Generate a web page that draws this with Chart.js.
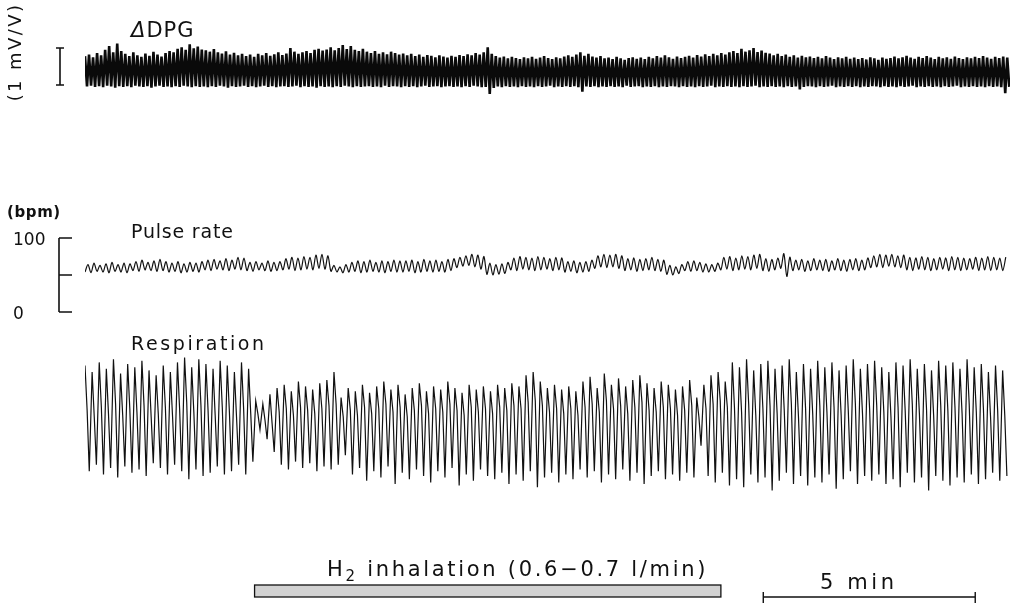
<!DOCTYPE html>
<html>
<head>
<meta charset="utf-8">
<script src="https://cdn.jsdelivr.net/npm/chart.js@4/dist/chart.umd.min.js"></script>
<style>
  html,body{margin:0;padding:0;background:#fff;}
  #wrap{position:relative;width:1013px;height:606px;overflow:hidden;background:#fff;}
  #c{position:absolute;left:0;top:0;}
  .t{position:absolute;font-family:"DejaVu Sans",sans-serif;color:#111;white-space:nowrap;line-height:1;}
</style>
</head>
<body>
<div id="wrap">
  <canvas id="c" width="1013" height="606"></canvas>
  <div class="t" style="left:131px;top:20px;font-size:21px;letter-spacing:1px;"><span style="font-style:italic">Δ</span>DPG</div>
  <div class="t" style="left:-37px;top:43px;width:104px;text-align:center;font-size:18px;letter-spacing:2.4px;transform:rotate(-90deg);">(1 mV/V)</div>
  <div class="t" style="left:7px;top:205px;font-size:15px;font-weight:bold;letter-spacing:0.6px;">(bpm)</div>
  <div class="t" style="left:13px;top:231px;font-size:17px;letter-spacing:0px;">100</div>
  <div class="t" style="left:13px;top:305px;font-size:17px;">0</div>
  <div class="t" style="left:131px;top:222px;font-size:19px;letter-spacing:0.8px;">Pulse rate</div>
  <div class="t" style="left:131px;top:334px;font-size:19px;letter-spacing:2.6px;">Respiration</div>
  <div class="t" style="left:327px;top:559px;font-size:21px;letter-spacing:2.7px;">H<span style="font-size:15px;position:relative;top:5px;">2</span> inhalation (0.6−0.7 l/min)</div>
  <div class="t" style="left:820px;top:572px;font-size:21px;letter-spacing:3.6px;">5 min</div>
</div>
<script>
// ---- time axis (minutes) ----
const timeMaxMin = 21.82;
const h2StartMin = 4, h2EndMin = 15;
const scaleBarStartMin = 16, scaleBarEndMin = 21;

// ---- ΔDPG (mV/V): successive oscillation highs and lows ----
const dpgStepMin = 0.095;
const dpgHigh = [
 0.78,0.82,0.75,0.86,0.80,0.95,1.05,0.88,1.12,0.92,
 0.84,0.78,0.88,0.80,0.76,0.85,0.79,0.90,0.82,0.77,
 0.86,0.92,0.88,0.98,1.02,0.95,1.10,0.99,1.04,0.96,
 0.94,0.90,0.97,0.88,0.85,0.91,0.82,0.87,0.80,0.84,
 0.78,0.82,0.76,0.84,0.80,0.86,0.79,0.83,0.88,0.81,
 0.85,1.00,0.90,0.84,0.88,0.92,0.86,0.95,0.98,0.93,
 0.96,1.02,0.94,1.00,1.08,0.97,1.05,0.95,0.92,0.98,
 0.90,0.86,0.92,0.84,0.88,0.83,0.90,0.86,0.82,0.85,
 0.80,0.84,0.78,0.82,0.76,0.81,0.79,0.75,0.80,0.77,
 0.74,0.79,0.76,0.81,0.78,0.83,0.80,0.86,0.82,0.88,
 1.02,0.84,0.78,0.74,0.77,0.72,0.76,0.73,0.70,0.75,
 0.72,0.76,0.71,0.74,0.78,0.73,0.70,0.75,0.72,0.77,
 0.80,0.76,0.82,0.88,0.79,0.84,0.77,0.74,0.78,0.72,
 0.74,0.70,0.76,0.72,0.68,0.73,0.75,0.71,0.74,0.70,
 0.76,0.72,0.78,0.74,0.80,0.75,0.71,0.77,0.73,0.76,
 0.79,0.74,0.81,0.77,0.83,0.78,0.84,0.80,0.86,0.82,
 0.88,0.92,0.86,0.98,0.90,0.94,1.00,0.89,0.93,0.87,
 0.85,0.80,0.84,0.78,0.82,0.76,0.80,0.74,0.79,0.75,
 0.77,0.73,0.76,0.72,0.78,0.74,0.70,0.75,0.72,0.76,
 0.71,0.74,0.70,0.73,0.69,0.75,0.72,0.68,0.74,0.71,
 0.73,0.77,0.72,0.75,0.79,0.74,0.71,0.76,0.73,0.78,
 0.74,0.70,0.76,0.72,0.75,0.71,0.77,0.73,0.70,0.75,
 0.72,0.76,0.73,0.78,0.74,0.71,0.76,0.73,0.77,0.74
];
const dpgLow = [
 -0.04,-0.02,-0.05,-0.03,-0.06,-0.02,-0.04,-0.07,-0.03,-0.05,
 -0.03,-0.06,-0.02,-0.04,-0.05,-0.03,-0.07,-0.04,-0.02,-0.05,
 -0.04,-0.06,-0.03,-0.05,-0.02,-0.04,-0.06,-0.03,-0.05,-0.04,
 -0.06,-0.03,-0.05,-0.02,-0.04,-0.07,-0.03,-0.05,-0.04,-0.02,
 -0.05,-0.03,-0.06,-0.04,-0.02,-0.05,-0.03,-0.06,-0.04,-0.03,
 -0.05,-0.04,-0.02,-0.06,-0.03,-0.05,-0.04,-0.07,-0.03,-0.05,
 -0.04,-0.06,-0.03,-0.05,-0.02,-0.04,-0.06,-0.03,-0.05,-0.04,
 -0.03,-0.05,-0.04,-0.06,-0.02,-0.05,-0.03,-0.04,-0.06,-0.03,
 -0.05,-0.03,-0.06,-0.04,-0.02,-0.05,-0.04,-0.03,-0.06,-0.04,
 -0.03,-0.05,-0.04,-0.06,-0.03,-0.05,-0.02,-0.04,-0.06,-0.05,
 -0.24,-0.08,-0.04,-0.06,-0.03,-0.05,-0.04,-0.06,-0.03,-0.05,
 -0.04,-0.06,-0.03,-0.05,-0.04,-0.02,-0.06,-0.04,-0.05,-0.03,
 -0.05,-0.03,-0.06,-0.18,-0.04,-0.05,-0.03,-0.06,-0.04,-0.05,
 -0.03,-0.05,-0.04,-0.06,-0.02,-0.05,-0.04,-0.03,-0.06,-0.04,
 -0.05,-0.03,-0.06,-0.04,-0.05,-0.03,-0.04,-0.06,-0.03,-0.05,
 -0.04,-0.06,-0.03,-0.05,-0.04,-0.02,-0.06,-0.04,-0.05,-0.03,
 -0.05,-0.04,-0.06,-0.03,-0.05,-0.04,-0.02,-0.06,-0.04,-0.05,
 -0.03,-0.05,-0.04,-0.06,-0.03,-0.05,-0.04,-0.12,-0.05,-0.03,
 -0.04,-0.06,-0.03,-0.05,-0.04,-0.02,-0.06,-0.04,-0.05,-0.03,
 -0.05,-0.03,-0.06,-0.04,-0.05,-0.03,-0.04,-0.06,-0.03,-0.05,
 -0.04,-0.06,-0.03,-0.05,-0.04,-0.02,-0.06,-0.04,-0.05,-0.03,
 -0.05,-0.04,-0.06,-0.03,-0.05,-0.04,-0.02,-0.06,-0.04,-0.05,
 -0.03,-0.05,-0.04,-0.06,-0.03,-0.05,-0.04,-0.06,-0.22,-0.05
];

// ---- Pulse rate (bpm): successive highs and lows of each beat-to-beat wiggle ----
const pulseTicks = [0, 50, 100];
const pulseStepMin = 0.1415;
const pulseHigh = [
 64,66,63,65,67,64,66,65,
 68,70,67,69,71,68,
 66,68,65,67,66,68,
 70,71,69,72,70,74,73,
 67,68,66,69,67,68,
 72,74,73,75,74,77,78,76,
 63,61,64,
 67,69,68,70,67,69,68,70,69,
 69,70,68,71,69,70,68,71,72,
 74,76,78,77,75,
 66,64,65,67,
 73,75,74,73,75,74,72,74,73,
 68,69,67,68,70,
 76,78,77,78,76,
 72,73,71,72,74,71,70,
 63,61,64,
 68,69,67,65,64,66,
 74,75,73,76,75,77,78,
 72,71,73,
 79,74,
 70,71,69,72,70,71,69,72,70,71,72,70,73,
 76,78,77,78,76,77,
 74,73,75,74,72,74,73,75,74,73,72,74,73,75,74,73,74
];
const pulseLow = [
 54,53,55,54,53,55,54,53,
 56,55,57,56,55,56,
 54,55,53,54,55,54,
 57,56,58,57,56,58,57,
 56,55,57,56,55,56,
 57,58,56,57,58,57,59,58,
 55,54,53,
 54,55,53,54,55,54,53,55,54,
 54,55,53,54,55,54,55,54,56,
 60,62,63,61,58,
 51,50,51,52,
 57,56,58,57,56,57,58,56,57,
 54,55,53,54,55,
 59,61,60,61,59,
 56,57,55,56,57,56,55,
 51,50,52,
 56,55,56,54,54,55,
 57,58,56,57,58,57,59,
 56,55,57,
 59,48,
 56,57,55,56,57,56,55,57,56,55,57,56,57,
 60,61,60,62,61,60,
 57,56,58,57,56,57,58,56,57,56,57,58,56,57,56,57,56
];

// ---- Respiration (arbitrary units): peak, shoulder, trough of each breath ----
const respStepMin = 0.1678;
const respPeak = [
 84,80,86,82,88,79,85,83,87,81,
 78,84,80,86,89,83,88,85,82,87,
 84,80,86,82,
 62,60,66,
 70,72,68,74,71,69,73,75,
 80,
 64,
 70,68,72,67,71,74,69,72,66,70,
 73,68,71,69,74,70,67,72,69,71,
 68,72,70,73,71,78,80,74,70,72,
 69,71,68,
 74,77,70,79,72,76,71,75,78,73,
 70,74,72,69,71,75,
 64,
 72,78,80,74,
 86,83,88,81,85,87,82,84,88,80,
 85,82,87,83,86,81,84,88,82,85,
 87,83,80,86,84,88,82,85,81,87,
 84,86,82,88,83,85,80,84,81
];
const respShoulder = [
 56,52,58,54,60,53,57,55,59,52,
 54,58,53,57,61,55,59,56,53,58,
 55,52,57,54,
 54,50,48,
 55,57,53,58,56,54,57,59,
 60,
 52,
 56,53,58,54,57,60,55,58,52,56,
 59,54,57,55,60,56,53,58,55,57,
 54,58,56,59,57,61,62,59,55,57,
 54,57,53,
 58,60,55,62,57,59,54,58,61,56,
 55,58,57,53,56,59,
 52,
 57,60,62,58,
 58,55,60,53,57,59,54,56,60,52,
 57,54,59,55,58,53,56,60,54,57,
 59,55,52,58,56,60,54,57,53,59,
 56,58,54,60,55,57,52,56,53
];
const respTrough = [
 18,22,16,20,14,21,17,19,15,23,
 20,16,22,18,13,19,15,17,21,16,
 18,22,16,24,
 44,38,30,
 22,19,24,20,23,18,21,19,
 22,
 28,
 16,20,12,18,14,21,10,17,13,19,
 15,11,18,14,20,9,16,12,19,15,
 13,17,10,16,12,18,8,14,17,11,
 16,13,19,
 14,18,11,16,13,19,12,17,10,15,
 18,13,16,12,17,14,
 34,
 15,11,17,9,
 13,8,16,11,14,6,12,17,10,15,
 9,14,11,16,7,13,18,10,15,12,
 16,10,13,8,17,11,14,6,15,12,
 9,14,11,16,10,13,17,12,15
];

// ---- build point lists for the library ----
const dpgPoints = [];
dpgHigh.forEach((v, i) => {
  dpgPoints.push({x: i * dpgStepMin, y: v});
  dpgPoints.push({x: (i + 0.5) * dpgStepMin, y: dpgLow[i]});
});
const pulsePoints = [];
pulseLow.forEach((v, i) => {
  pulsePoints.push({x: i * pulseStepMin, y: v});
  pulsePoints.push({x: (i + 0.5) * pulseStepMin, y: pulseHigh[i]});
});
const respPoints = [];
respPeak.forEach((v, i) => {
  respPoints.push({x: i * respStepMin, y: v});
  respPoints.push({x: (i + 0.3) * respStepMin, y: respShoulder[i]});
  respPoints.push({x: (i + 0.6) * respStepMin, y: respTrough[i]});
});

// ---- decorations drawn from the chart's own scales ----
const decor = {
  id: 'decor',
  afterDatasetsDraw(chart) {
    const ctx = chart.ctx;
    const xs = chart.scales.x, yD = chart.scales.yD, yP = chart.scales.yP;
    ctx.save();
    ctx.strokeStyle = '#111';
    ctx.lineWidth = 1.6;
    // 1 mV/V calibration bar
    const bx = 60, b0 = yD.getPixelForValue(0), b1 = yD.getPixelForValue(1);
    ctx.beginPath();
    ctx.moveTo(bx, b0); ctx.lineTo(bx, b1);
    ctx.moveTo(bx - 4, b0); ctx.lineTo(bx + 4, b0);
    ctx.moveTo(bx - 4, b1); ctx.lineTo(bx + 4, b1);
    ctx.stroke();
    // pulse rate axis
    const ax = 59;
    ctx.beginPath();
    ctx.moveTo(ax, yP.getPixelForValue(0)); ctx.lineTo(ax, yP.getPixelForValue(100));
    pulseTicks.forEach(t => {
      const py = yP.getPixelForValue(t);
      ctx.moveTo(ax, py); ctx.lineTo(ax + 13, py);
    });
    ctx.stroke();
    // H2 inhalation period bar
    const hx0 = xs.getPixelForValue(h2StartMin), hx1 = xs.getPixelForValue(h2EndMin);
    ctx.fillStyle = '#d2d2d2';
    ctx.fillRect(hx0, 585, hx1 - hx0, 12);
    ctx.lineWidth = 1.3;
    ctx.strokeRect(hx0, 585, hx1 - hx0, 12);
    // 5 min scale bar
    const sx0 = xs.getPixelForValue(scaleBarStartMin), sx1 = xs.getPixelForValue(scaleBarEndMin);
    ctx.lineWidth = 1.4;
    ctx.beginPath();
    ctx.moveTo(sx0, 597); ctx.lineTo(sx1, 597);
    ctx.moveTo(sx0, 592); ctx.lineTo(sx0, 603);
    ctx.moveTo(sx1, 592); ctx.lineTo(sx1, 603);
    ctx.stroke();
    ctx.restore();
  }
};

new Chart(document.getElementById('c'), {
  type: 'line',
  data: {
    datasets: [
      {label: 'ΔDPG', data: dpgPoints, yAxisID: 'yD', borderColor: '#0a0a0a', borderWidth: 2.6, pointRadius: 0, tension: 0, fill: false},
      {label: 'Pulse rate', data: pulsePoints, yAxisID: 'yP', borderColor: '#111', borderWidth: 1.2, pointRadius: 0, tension: 0.3, fill: false},
      {label: 'Respiration', data: respPoints, yAxisID: 'yR', borderColor: '#111', borderWidth: 1.2, pointRadius: 0, tension: 0, fill: false}
    ]
  },
  options: {
    responsive: false,
    animation: false,
    devicePixelRatio: 1,
    layout: {padding: {left: 85, right: 3, top: 0, bottom: 0}},
    plugins: {legend: {display: false}, tooltip: {enabled: false}},
    scales: {
      x: {type: 'linear', min: 0, max: timeMaxMin, display: false},
      yD: {type: 'linear', min: -14.081, max: 2.2973, display: false},
      yP: {type: 'linear', min: -397.30, max: 421.62, display: false},
      yR: {type: 'linear', min: -66.25, max: 312.5, display: false}
    }
  },
  plugins: [decor]
});
</script>
</body>
</html>
